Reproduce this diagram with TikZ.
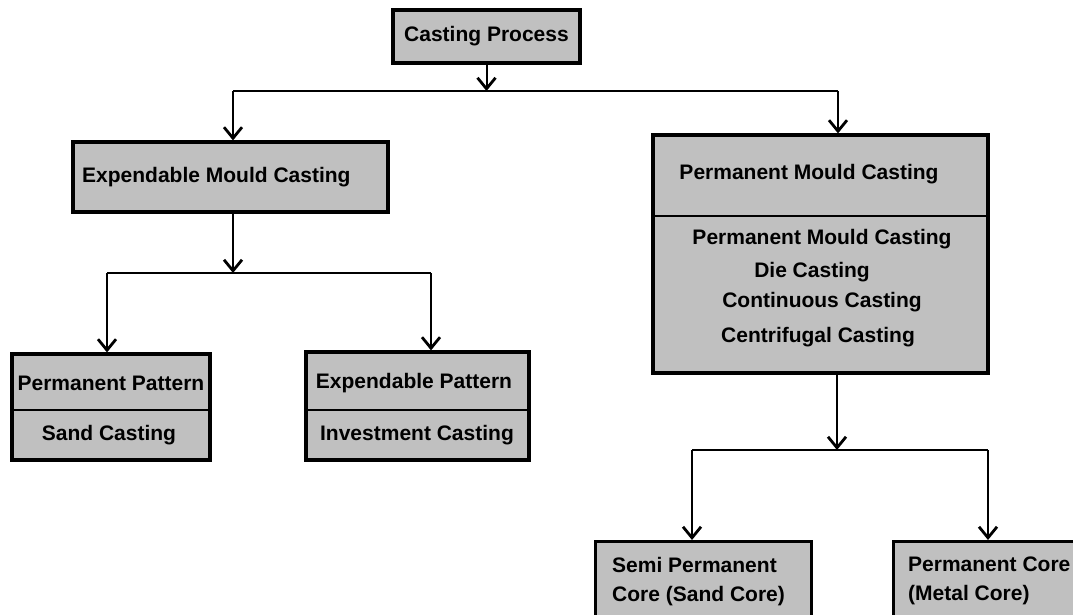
\documentclass[tikz,border=0pt]{standalone}
\usepackage{fontspec}
\setmainfont{Liberation Sans}
\usetikzlibrary{arrows.meta,calc}
\definecolor{boxgray}{HTML}{C0C0C0}
\tikzset{
  boxnode/.style={draw=black, line width=3.2pt, fill=boxgray, rectangle, inner sep=0pt},
  lbl/.style={font=\fontsize{21}{25}\selectfont\bfseries, inner sep=0pt, text=black},
  conn/.style={draw=black, line width=2pt},
  arr/.style={conn, -{Straight Barb[length=11pt,width=18pt,line width=2.8pt]}},
  divider/.style={draw=black, line width=2.2pt}
}
\begin{document}
\begin{tikzpicture}[x=1pt,y=-1pt]
\useasboundingbox (0,0) rectangle (1073,615);
\fill[white] (0,0) rectangle (1073,615);
\clip (0,0) rectangle (1073,615);

% Casting Process
\node[boxnode, minimum width=187pt, minimum height=53pt] (cp) at (486.5,36.5) {};
\node[lbl] (cpt) at (486.5,36) {Casting Process};

% Expendable Mould Casting
\node[boxnode, minimum width=315pt, minimum height=70pt] (exp) at (230.5,177) {};
\node[lbl, anchor=west] (expt) at (82,177) {Expendable Mould Casting};

% Permanent Mould Casting
\node[boxnode, minimum width=335pt, minimum height=238pt] (perm) at (820.5,254) {};
\draw[divider] (perm.west |- 0,216) -- (perm.east |- 0,216);
\node[lbl] (permh) at (809,174) {Permanent Mould Casting};
\node[lbl] (perm1) at (822,239) {Permanent Mould Casting};
\node[lbl] (perm2) at (812,272) {Die Casting};
\node[lbl] (perm3) at (822,302) {Continuous Casting};
\node[lbl] (perm4) at (818,337) {Centrifugal Casting};

% Permanent Pattern
\node[boxnode, minimum width=198pt, minimum height=106pt] (pp) at (111,407) {};
\draw[divider] (pp.west |- 0,410) -- (pp.east |- 0,410);
\node[lbl] (ppt) at (111,383) {Permanent Pattern};
\node[lbl] (sct) at (109,435) {Sand Casting};

% Expendable Pattern
\node[boxnode, minimum width=223pt, minimum height=108pt] (ep) at (417.5,406) {};
\draw[divider] (ep.west |- 0,410) -- (ep.east |- 0,410);
\node[lbl] (ept) at (414,383) {Expendable Pattern};
\node[lbl] (ict) at (417,435) {Investment Casting};

% Semi Permanent core
\node[boxnode, minimum width=216pt, minimum height=110pt, anchor=north west] (sp) at (594,540) {};
\node[lbl, anchor=north west, align=left] (spt) at (612,557) {Semi Permanent\\[4pt]Core (Sand Core)};

% Permanent core
\node[boxnode, minimum width=230pt, minimum height=110pt, anchor=north west] (pc) at (892,540) {};
\node[lbl, anchor=north west, align=left] (pct) at (908,557) {Permanent Core\\[4pt](Metal Core)};

% connectors
\coordinate (j1) at (486.5,91);
\coordinate (j1l) at (233,91);
\coordinate (j1r) at (838,91);
\draw[arr] (cp.south) -- (j1);
\draw[conn] (j1l) -- (j1r);
\draw[arr] (j1l) -- (exp.north -| j1l);
\draw[arr] (j1r) -- (perm.north -| j1r);

\coordinate (j2) at (233,273);
\coordinate (j2l) at (107,273);
\coordinate (j2r) at (431,273);
\draw[arr] (exp.south -| j2) -- (j2);
\draw[conn] (j2l) -- (j2r);
\draw[arr] (j2l) -- (pp.north -| j2l);
\draw[arr] (j2r) -- (ep.north -| j2r);

\coordinate (j3) at (837,450);
\coordinate (j3l) at (692,450);
\coordinate (j3r) at (988,450);
\draw[arr] (perm.south -| j3) -- (j3);
\draw[conn] (j3l) -- (j3r);
\draw[arr] (j3l) -- (sp.north -| j3l);
\draw[arr] (j3r) -- (pc.north -| j3r);
\end{tikzpicture}
\end{document}
